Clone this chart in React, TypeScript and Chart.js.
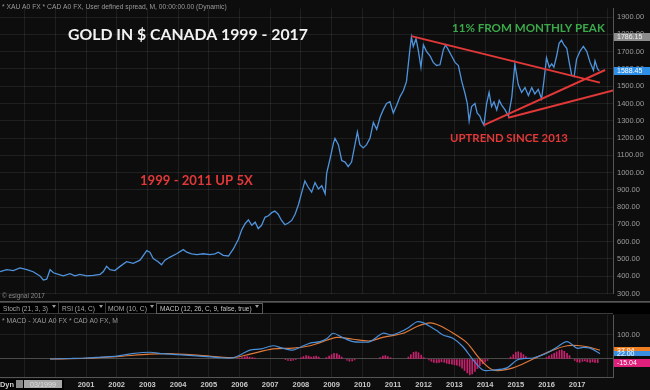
import React, { useEffect, useRef } from "react";
import { Chart, registerables } from "chart.js";

Chart.register(...registerables);

// ---------------- DATA ----------------
const priceDates = [
  1998.2, 1998.42, 1998.63, 1998.85, 1999.07, 1999.28, 1999.5, 1999.61, 1999.72, 1999.83, 1999.94,
  2000.1, 2000.26, 2000.48, 2000.64, 2000.8, 2001.02, 2001.24, 2001.46, 2001.56, 2001.67, 2001.78, 2001.94,
  2002.11, 2002.32, 2002.54, 2002.76, 2002.98, 2003.08, 2003.19, 2003.35, 2003.46, 2003.57, 2003.74, 2003.95,
  2004.17, 2004.28, 2004.44, 2004.61, 2004.82, 2005.04, 2005.2, 2005.31, 2005.47, 2005.64, 2005.8, 2005.96,
  2006.07, 2006.18, 2006.29, 2006.4, 2006.51, 2006.61, 2006.72, 2006.83, 2006.94, 2007.05, 2007.15, 2007.26,
  2007.37, 2007.48, 2007.59, 2007.7, 2007.81, 2007.92, 2008.03, 2008.13, 2008.24, 2008.35, 2008.46, 2008.57,
  2008.68, 2008.79, 2008.84, 2008.95, 2009.06, 2009.11, 2009.22, 2009.33, 2009.44, 2009.54, 2009.65, 2009.76,
  2009.84, 2009.92, 2010.03, 2010.14, 2010.25, 2010.36, 2010.47, 2010.58, 2010.68, 2010.79, 2010.9, 2011.01,
  2011.12, 2011.23, 2011.34, 2011.44, 2011.55, 2011.6, 2011.66, 2011.75, 2011.82, 2011.91, 2011.99, 2012.09,
  2012.21, 2012.31, 2012.42, 2012.53, 2012.64, 2012.71, 2012.8, 2012.91, 2013.02, 2013.13, 2013.24, 2013.35,
  2013.42, 2013.48, 2013.56, 2013.67, 2013.74, 2013.83, 2013.89, 2013.96, 2014.05, 2014.13, 2014.21, 2014.29,
  2014.38, 2014.46, 2014.54, 2014.65, 2014.76, 2014.87, 2014.97, 2015.08, 2015.19, 2015.3, 2015.41, 2015.52,
  2015.62, 2015.73, 2015.84, 2015.92, 2016.0, 2016.09, 2016.17, 2016.24, 2016.33, 2016.41, 2016.49, 2016.57,
  2016.66, 2016.74, 2016.82, 2016.9, 2016.98, 2017.09, 2017.2, 2017.31, 2017.42, 2017.53, 2017.58, 2017.66,
  2017.72,
];
const priceValues = [
  426, 438, 433, 448, 438, 426, 402, 378, 383, 438, 420,
  411, 402, 415, 402, 411, 402, 405, 411, 426, 457, 438, 433,
  457, 484, 475, 493, 548, 539, 503, 484, 466, 493, 511, 530,
  554, 539, 530, 525, 530, 525, 530, 539, 521, 517, 558, 613,
  668, 704, 726, 695, 713, 676, 695, 741, 750, 768, 777, 759,
  723, 698, 708, 723, 759, 814, 887, 951, 915, 887, 942, 905,
  924, 878, 997, 1080, 1171, 1198, 1162, 1070, 1061, 1034, 1061, 1162,
  1235, 1162, 1143, 1162, 1198, 1290, 1250, 1320, 1363, 1400, 1410, 1345,
  1390, 1440, 1475, 1528, 1712, 1785, 1730, 1775, 1712, 1610, 1739, 1702,
  1675, 1638, 1620, 1624, 1712, 1739, 1712, 1675, 1638, 1620, 1528, 1455,
  1400, 1299, 1382, 1400, 1345, 1327, 1299, 1275, 1400, 1464, 1382, 1409,
  1363, 1418, 1391, 1363, 1327, 1437, 1629, 1510, 1464, 1492, 1446, 1492,
  1455, 1482, 1427, 1537, 1665, 1610, 1629, 1610, 1675, 1748, 1766, 1739,
  1720, 1638, 1565, 1555, 1657, 1702, 1730, 1702, 1638, 1592, 1647, 1602,
  1588.45,
];

const trendDownDates = [2011.6, 2017.74];
const trendDownValues = [1790, 1521];
const trendUpADates = [2013.96, 2017.91];
const trendUpAValues = [1275, 1594];
const trendUpBDates = [2014.75, 2018.17];
const trendUpBValues = [1318, 1475];

const priceTicks = [300, 400, 500, 600, 700, 800, 900, 1000, 1100, 1200, 1300, 1400, 1500, 1600, 1700, 1800, 1900];
const yearTicks = [1999, 2000, 2001, 2002, 2003, 2004, 2005, 2006, 2007, 2008, 2009, 2010, 2011, 2012, 2013, 2014, 2015, 2016, 2017, 2018];
const yearLabels = ["2001", "2002", "2003", "2004", "2005", "2006", "2007", "2008", "2009", "2010", "2011", "2012", "2013", "2014", "2015", "2016", "2017"];

const lastPrice = 1588.45;
const peakPrice = 1786.15;

const macdDates = [
  1999.83, 2000.5, 2001.0, 2001.5, 2002.0, 2002.5, 2003.08, 2003.5, 2004.0, 2004.71, 2005.3, 2005.79,
  2006.1, 2006.34, 2006.7, 2007.09, 2007.4, 2007.74, 2008.0, 2008.3, 2008.62, 2008.85, 2009.05, 2009.35,
  2009.7, 2010.0, 2010.25, 2010.67, 2010.95, 2011.23, 2011.5, 2011.78, 2012.0, 2012.21, 2012.42, 2012.63,
  2012.95, 2013.28, 2013.61, 2013.93, 2014.26, 2014.71, 2015.04, 2015.3, 2015.56, 2016.02, 2016.35, 2016.67,
  2016.99, 2017.2, 2017.42, 2017.74,
];
const macdValues = [
  0, 2, 4, 8, 12, 22, 28, 22, 18, 12, 6, 5,
  22, 37, 42, 55, 45, 37, 50, 66, 72, 85, 107, 90,
  72, 70, 72, 107, 100, 112, 130, 155, 150, 135, 118, 100,
  86, 51, -4, -46, -46, -37, -4, 2, 4, 25, 50, 72,
  45, 48, 45, 22,
];
const signalDates = [
  1999.83, 2001.0, 2002.0, 2003.08, 2003.7, 2004.71, 2005.79, 2006.34, 2007.09, 2007.74, 2008.3, 2008.62,
  2009.18, 2009.7, 2010.25, 2010.67, 2011.33, 2011.78, 2012.21, 2012.53, 2012.95, 2013.41, 2013.83, 2014.26,
  2014.91, 2015.56, 2016.21, 2016.67, 2017.0, 2017.32, 2017.74,
];
const signalValues = [
  0, 3, 10, 20, 22, 15, 6, 20, 42, 45, 55, 68,
  90, 82, 75, 90, 107, 135, 150, 138, 108, 67, 0, -46,
  -37, 0, 37, 55, 56, 51, 37.04,
];
const histDates = [
  2006.0, 2006.08, 2006.17, 2006.25, 2006.33, 2006.42, 2006.5,
  2007.5, 2007.58, 2007.67, 2007.75, 2007.83,
  2008.0, 2008.08, 2008.17, 2008.25, 2008.33, 2008.42, 2008.5, 2008.58,
  2008.83, 2008.92, 2009.0, 2009.08, 2009.17, 2009.25, 2009.33,
  2009.5, 2009.58, 2009.67, 2009.75,
  2010.58, 2010.67, 2010.75, 2010.83, 2010.92,
  2011.5, 2011.58, 2011.67, 2011.75, 2011.83, 2011.92, 2012.0,
  2012.17, 2012.25, 2012.33, 2012.42, 2012.5, 2012.58, 2012.67, 2012.75, 2012.83, 2012.92, 2013.0, 2013.08,
  2013.17, 2013.25, 2013.33, 2013.42, 2013.5, 2013.58, 2013.67, 2013.75, 2013.83, 2013.92, 2014.0, 2014.08,
  2014.83, 2014.92, 2015.0, 2015.08, 2015.17, 2015.25, 2015.33,
  2016.0, 2016.08, 2016.17, 2016.25, 2016.33, 2016.42, 2016.5, 2016.58, 2016.67, 2016.75,
  2016.92, 2017.0, 2017.08, 2017.17, 2017.25, 2017.33, 2017.42, 2017.5, 2017.58, 2017.67,
];
const histValues = [
  3, 6, 9, 10, 8, 6, 4,
  -3, -6, -7, -5, -3,
  5, 10, 14, 12, 8, 10, 12, 8,
  6, 12, 18, 24, 22, 16, 8,
  -5, -9, -8, -4,
  6, 12, 14, 10, 5,
  8, 18, 28, 30, 26, 16, 6,
  -4, -10, -14, -16, -14, -12, -14, -18, -20, -22, -24, -26,
  -30, -38, -48, -58, -66, -62, -52, -40, -28, -20, -12, -6,
  8, 18, 28, 30, 26, 18, 10,
  6, 12, 18, 24, 30, 36, 37, 32, 24, 14,
  -6, -12, -14, -10, -8, -12, -14, -12, -14, -15.04,
];
const macdLast = 22.0;
const signalLast = 37.04;
const histLast = -15.04;

const headerText = "* XAU A0 FX * CAD A0 FX, User defined spread, M, 00:00:00.00 (Dynamic)";
const titleText = "GOLD IN $ CANADA 1999 - 2017";
const peakNote = "11% FROM MONTHLY PEAK";
const uptrendNote = "UPTREND SINCE 2013";
const rallyNote = "1999 - 2011 UP 5X";
const copyrightText = "© esignal 2017";
const tabLabels = ["Stoch (21, 3, 3)", "RSI (14, C)", "MOM (10, C)", "MACD (12, 26, C, 9, false, true)"];
const macdSubtitle = "* MACD - XAU A0 FX * CAD A0 FX, M";
const dateBoxText = "03/1999";

// ---------------- STYLE ----------------
const X_MIN = 2001 - 86 / 30.7;
const X_MAX = X_MIN + 613 / 30.7;
const GRID = "rgba(255,255,255,0.08)";
const AXIS_LINE = "#555555";
const SMALL_FONT = "'Liberation Sans', Arial, sans-serif";
const NOTE_FONT = "Lato, 'Open Sans', sans-serif";
const RED = "#e23838";

const pts = (xs: number[], ys: number[]) => xs.map((x, i) => ({ x, y: ys[i] }));

function fitText(ctx: CanvasRenderingContext2D, text: string, left: number, baseline: number, width: number, weight: string, family: string, color: string) {
  ctx.save();
  ctx.font = `${weight} 20px ${family}`;
  const w = ctx.measureText(text).width;
  const size = (20 * width) / w;
  ctx.font = `${weight} ${size}px ${family}`;
  ctx.fillStyle = color;
  ctx.textAlign = "left";
  ctx.textBaseline = "alphabetic";
  ctx.fillText(text, left, baseline);
  ctx.restore();
}

function valueBox(ctx: CanvasRenderingContext2D, cy: number, text: string, bg: string, fg: string, h = 8) {
  ctx.save();
  ctx.fillStyle = bg;
  ctx.fillRect(614, Math.round(cy - h / 2), 36, h);
  ctx.fillStyle = fg;
  ctx.font = `7px ${SMALL_FONT}`;
  ctx.textBaseline = "middle";
  ctx.textAlign = "left";
  ctx.fillText(text, 617, cy + 0.5);
  ctx.restore();
}

const mainOverlay = {
  id: "mainOverlay",
  afterDraw(chart: any) {
    const ctx: CanvasRenderingContext2D = chart.ctx;
    const y = chart.scales.y;
    fitText(ctx, headerText, 2, 9, 225, "normal", SMALL_FONT, "#9a9a9a");
    fitText(ctx, titleText, 68, 40, 240, "bold", NOTE_FONT, "#f2f2f2");
    fitText(ctx, peakNote, 452, 32, 153, "bold", NOTE_FONT, "#3ba94a");
    fitText(ctx, uptrendNote, 450, 142, 118, "bold", NOTE_FONT, RED);
    fitText(ctx, rallyNote, 140, 185, 113, "bold", NOTE_FONT, RED);
    fitText(ctx, copyrightText, 2, 298, 43, "normal", SMALL_FONT, "#8a8a8a");
    valueBox(ctx, y.getPixelForValue(peakPrice), peakPrice.toFixed(2), "#8c8c8c", "#eeeeee");
    valueBox(ctx, y.getPixelForValue(lastPrice), lastPrice.toFixed(2), "#2e8fe8", "#ffffff");
    ctx.save();
    ctx.strokeStyle = AXIS_LINE;
    ctx.lineWidth = 1;
    ctx.beginPath();
    ctx.moveTo(0, 301.5);
    ctx.lineTo(650, 301.5);
    ctx.stroke();
    ctx.restore();
  },
};

const macdOverlay = {
  id: "macdOverlay",
  afterDraw(chart: any) {
    const ctx: CanvasRenderingContext2D = chart.ctx;
    const y = chart.scales.y;
    ctx.save();
    // tab row
    ctx.fillStyle = "#000000";
    ctx.fillRect(0, 0, 650, 12);
    ctx.strokeStyle = "#3c3c3c";
    ctx.lineWidth = 1;
    ctx.beginPath();
    ctx.moveTo(0, 0.5);
    ctx.lineTo(650, 0.5);
    ctx.moveTo(0, 11.5);
    ctx.lineTo(613, 11.5);
    ctx.stroke();
    const tabX = [3, 62, 108, 160];
    const tabW = [45, 33, 39, 92];
    const markX = [54, 101, 152, 257];
    const sepX = [58.5, 105.5, 156.5, 262.5];
    tabLabels.forEach((t, i) => {
      fitText(ctx, t, tabX[i], 9, tabW[i], "normal", SMALL_FONT, i === 3 ? "#c4c4c4" : "#a8a8a8");
      ctx.fillStyle = "#9a9a9a";
      ctx.beginPath();
      ctx.moveTo(markX[i] - 2, 3);
      ctx.lineTo(markX[i] + 2, 3);
      ctx.lineTo(markX[i], 6);
      ctx.closePath();
      ctx.fill();
      ctx.strokeStyle = "#3c3c3c";
      ctx.beginPath();
      ctx.moveTo(sepX[i], 1);
      ctx.lineTo(sepX[i], 11);
      ctx.stroke();
    });
    ctx.strokeStyle = "#5a5a5a";
    ctx.strokeRect(156.5, 1.5, 106, 10);
    fitText(ctx, macdSubtitle, 2, 21, 116, "normal", SMALL_FONT, "#9a9a9a");
    // value boxes
    valueBox(ctx, y.getPixelForValue(signalLast), signalLast.toFixed(2), "#f07e22", "#ffffff", 7);
    valueBox(ctx, y.getPixelForValue(macdLast), macdLast.toFixed(2), "#3a8ee0", "#ffffff", 5);
    valueBox(ctx, y.getPixelForValue(histLast), histLast.toFixed(2), "#e0207a", "#ffffff", 8);
    // bottom-left date widget
    ctx.fillStyle = "#000000";
    ctx.fillRect(0, 77, 64, 11);
    fitText(ctx, "Dyn", 0, 85, 14, "bold", SMALL_FONT, "#d0d0d0");
    ctx.fillStyle = "#8a8a8a";
    ctx.fillRect(16, 78, 7, 8);
    ctx.fillStyle = "#a8a8a8";
    ctx.fillRect(24, 78, 38, 8);
    fitText(ctx, dateBoxText, 30, 85, 26, "normal", SMALL_FONT, "#dcdcdc");
    ctx.restore();
  },
};

export default function App() {
  const mainRef = useRef<HTMLCanvasElement | null>(null);
  const macdRef = useRef<HTMLCanvasElement | null>(null);

  useEffect(() => {
    document.body.style.margin = "0";
    document.body.style.background = "#0d0d0d";

    const mainChart = new Chart(mainRef.current as HTMLCanvasElement, {
      type: "line",
      data: {
        datasets: [
          { data: pts(trendDownDates, trendDownValues), borderColor: RED, borderWidth: 2, pointRadius: 0, order: 0 } as any,
          { data: pts(trendUpADates, trendUpAValues), borderColor: RED, borderWidth: 2, pointRadius: 0, order: 0 } as any,
          { data: pts(trendUpBDates, trendUpBValues), borderColor: RED, borderWidth: 2, pointRadius: 0, order: 0 } as any,
          { data: pts(priceDates, priceValues), borderColor: "#4f93dc", borderWidth: 1.3, pointRadius: 0, tension: 0, order: 1 } as any,
        ],
      },
      options: {
        animation: false,
        responsive: false,
        events: [],
        layout: { padding: 0 },
        plugins: { legend: { display: false }, tooltip: { enabled: false } },
        scales: {
          x: {
            type: "linear",
            min: X_MIN,
            max: X_MAX,
            offset: false,
            grid: { color: GRID, drawTicks: false },
            border: { display: false },
            ticks: { display: false },
            afterBuildTicks: (s: any) => {
              s.ticks = yearTicks.map((v) => ({ value: v }));
            },
            afterFit: (s: any) => {
              s.height = 0;
            },
          },
          y: {
            position: "right",
            min: 300,
            max: 1950,
            grid: { color: GRID, drawTicks: false },
            border: { display: true, color: AXIS_LINE },
            ticks: {
              color: "#9c9c9c",
              font: { size: 7.5, family: SMALL_FONT },
              padding: 4,
              callback: (v: any) => Number(v).toFixed(2),
            },
            afterBuildTicks: (s: any) => {
              s.ticks = priceTicks.map((v) => ({ value: v }));
            },
            afterFit: (s: any) => {
              s.width = 37;
            },
          },
        },
      } as any,
      plugins: [mainOverlay],
    });

    const macdChart = new Chart(macdRef.current as HTMLCanvasElement, {
      type: "line",
      data: {
        datasets: [
          { data: pts(macdDates, macdValues), borderColor: "#4a8fd8", borderWidth: 1.2, pointRadius: 0, tension: 0.3, order: 0 } as any,
          { data: pts(signalDates, signalValues), borderColor: "#e0793a", borderWidth: 1.2, pointRadius: 0, tension: 0.3, order: 1 } as any,
          { type: "bar", data: pts(histDates, histValues), backgroundColor: "#c8226e", barThickness: 1, order: 2 } as any,
        ],
      },
      options: {
        animation: false,
        responsive: false,
        events: [],
        layout: { padding: { top: 13, left: 0, right: 0, bottom: 0 } },
        plugins: { legend: { display: false }, tooltip: { enabled: false } },
        scales: {
          x: {
            type: "linear",
            min: X_MIN,
            max: X_MAX,
            offset: false,
            grid: { color: GRID, drawTicks: false, offset: false },
            border: { display: true, color: AXIS_LINE },
            ticks: {
              color: "#c8c8c8",
              font: { size: 7.5, family: SMALL_FONT, weight: "bold" },
              padding: 3,
              maxRotation: 0,
              autoSkip: false,
              callback: (v: any) => {
                const s = String(Math.round(Number(v)));
                return yearLabels.includes(s) ? s : "";
              },
            },
            afterBuildTicks: (s: any) => {
              s.ticks = yearTicks.map((v) => ({ value: v }));
            },
            afterFit: (s: any) => {
              s.height = 13;
            },
          },
          y: {
            position: "right",
            min: -75,
            max: 183,
            grid: {
              color: (c: any) => (c.tick && c.tick.value === 0 ? "#4a4a4a" : GRID),
              drawTicks: false,
            },
            border: { display: true, color: AXIS_LINE },
            ticks: {
              color: "#9c9c9c",
              font: { size: 7.5, family: SMALL_FONT },
              padding: 4,
              callback: (v: any) => (Number(v) === 100 ? "100.00" : ""),
            },
            afterBuildTicks: (s: any) => {
              s.ticks = [{ value: 0 }, { value: 100 }];
            },
            afterFit: (s: any) => {
              s.width = 37;
            },
          },
        },
      } as any,
      plugins: [macdOverlay],
    });

    return () => {
      mainChart.destroy();
      macdChart.destroy();
    };
  }, []);

  return (
    <div style={{ position: "fixed", left: 0, top: 0, width: 650, height: 390, background: "#0d0d0d", overflow: "hidden" }}>
      <canvas ref={mainRef} width={650} height={302} style={{ position: "absolute", left: 0, top: 0, width: 650, height: 302 }} />
      <canvas ref={macdRef} width={650} height={88} style={{ position: "absolute", left: 0, top: 302, width: 650, height: 88 }} />
    </div>
  );
}
